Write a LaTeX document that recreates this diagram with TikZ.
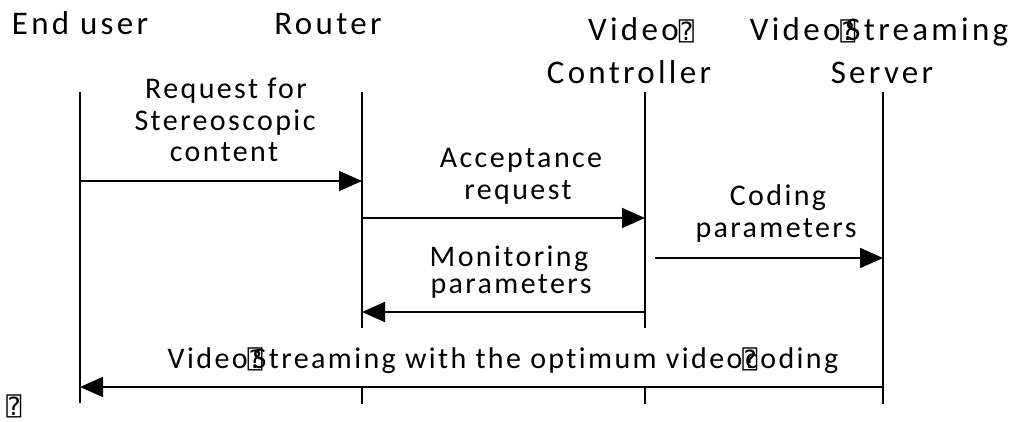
\documentclass[tikz,border=0pt]{standalone}
\usepackage{fontspec}
\setmainfont[Ligatures=NoCommon]{Carlito}
\newfontfamily\hdrfont[LetterSpace=10,Ligatures=NoCommon]{Carlito}
\newfontfamily\lblfont[LetterSpace=8,Ligatures=NoCommon]{Carlito}
\newfontfamily\boxfont{DejaVu Sans Mono}
\usetikzlibrary{arrows.meta}
\newcommand\qbox{{\boxfont\fontsize{25}{25}\selectfont ⍰}}
\begin{document}
\begin{tikzpicture}[x=1pt,y=-1pt,
  life/.style={line width=1.8pt},
  msg/.style={line width=1.8pt,-{Triangle[length=23pt,width=20pt]}},
  hdr/.style={anchor=base,inner sep=0pt,font=\hdrfont\fontsize{33}{33}\selectfont},
  lbl/.style={anchor=base,inner sep=0pt,font=\lblfont\fontsize{30}{30}\selectfont}]
\useasboundingbox (0,0) rectangle (1024,421);
% headers
\node[hdr] (heu) at (80,34) {End user};
\node[hdr] (hro) at (328,34) {Router};
\node[hdr] (hvc1) at (641,40) {Video\qbox};
\node[hdr] (hvc2) at (629,83) {Controller};
\node[hdr] (hvs1) at (879,40) {Video\rlap{\qbox}\kern5pt Streaming};
\node[hdr] (hvs2) at (882,83) {Server};
% lifeline coordinates
\coordinate (eut) at (80,92);   \coordinate (eub) at (80,403);
\coordinate (rot) at (362,92);  \coordinate (rob) at (362,328);
\coordinate (rot2) at (362,387); \coordinate (rob2) at (362,404);
\coordinate (vct) at (645,92);  \coordinate (vcb) at (645,328);
\coordinate (vct2) at (645,387); \coordinate (vcb2) at (645,404);
\coordinate (vst) at (883,92);  \coordinate (vsb) at (883,404);
\draw[life] (eut) -- (eub);
\draw[life] (rot) -- (rob);
\draw[life] (rot2) -- (rob2);
\draw[life] (vct) -- (vcb);
\draw[life] (vct2) -- (vcb2);
\draw[life] (vst) -- (vsb);
% message endpoints
\coordinate (m1a) at (80,181);  \coordinate (m1b) at (362,181);
\coordinate (m2a) at (362,218); \coordinate (m2b) at (645,218);
\coordinate (m3a) at (655,258); \coordinate (m3b) at (883,258);
\coordinate (m4a) at (645,312); \coordinate (m4b) at (362,312);
\coordinate (m5a) at (883,387); \coordinate (m5b) at (80,387);
\draw[msg] (m1a) -- (m1b);
\draw[msg] (m2a) -- (m2b);
\draw[msg] (m3a) -- (m3b);
\draw[msg] (m4a) -- (m4b);
\draw[msg] (m5a) -- (m5b);
% labels
\node[lbl] (l1a) at (226,98) {Request for};
\node[lbl] (l1b) at (225,130) {Stereoscopic};
\node[lbl] (l1c) at (224,161) {content};
\node[lbl] (l2a) at (521,167) {Acceptance};
\node[lbl] (l2b) at (518,199) {request};
\node[lbl] (l3a) at (778,205) {Coding};
\node[lbl] (l3b) at (776,237) {parameters};
\node[lbl] (l4a) at (509,266) {Monitoring};
\node[lbl] (l4b) at (511,293) {parameters};
\node[lbl] (l5) at (503,368) {Video\rlap{\qbox}\kern5pt Streaming with the optimum video\rlap{\qbox}\kern3pt coding};
\node[anchor=base,inner sep=0pt] (lone) at (14,415) {\qbox};
\end{tikzpicture}
\end{document}
